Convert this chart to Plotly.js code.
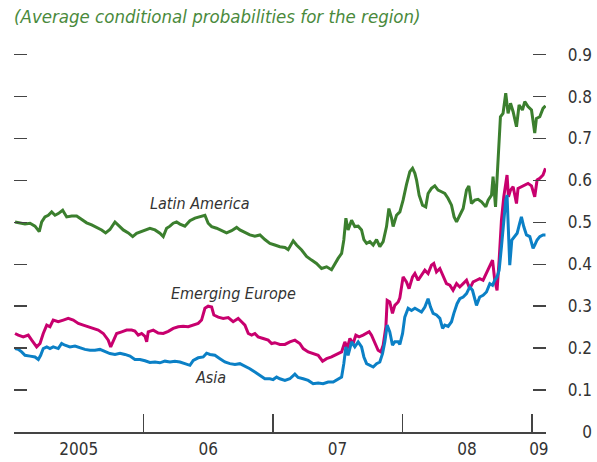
<!DOCTYPE html>
<html>
<head>
<meta charset="utf-8">
<script src="https://cdn.plot.ly/plotly-3.0.1.min.js"></script>
<style>html,body{margin:0;padding:0;background:#fff;}#chart{width:597px;height:462px;}</style>
</head>
<body>
<div id="chart"></div>
<script>
// ---- Data (x in decimal years, y = average conditional probability) ----
const latamX = [2005.008,2005.046,2005.085,2005.124,2005.162,2005.195,2005.214,2005.239,2005.265,2005.291,2005.317,2005.342,2005.376,2005.407,2005.446,2005.484,2005.523,2005.561,2005.600,2005.639,2005.677,2005.708,2005.741,2005.780,2005.805,2005.844,2005.883,2005.917,2005.947,2005.986,
2006.025,2006.050,2006.089,2006.127,2006.153,2006.179,2006.205,2006.230,2006.256,2006.282,2006.320,2006.359,2006.398,2006.436,2006.475,2006.500,2006.527,2006.565,2006.604,2006.642,2006.681,2006.720,2006.745,2006.784,2006.822,2006.861,2006.900,2006.938,2006.977,
2007.015,2007.054,2007.093,2007.118,2007.157,2007.183,2007.222,2007.260,2007.299,2007.337,2007.376,2007.415,2007.453,2007.479,2007.504,2007.531,2007.548,2007.564,2007.581,2007.608,2007.633,2007.659,2007.685,2007.703,2007.724,2007.749,2007.775,2007.801,2007.826,2007.852,2007.878,2007.896,2007.917,2007.929,2007.955,2007.981,
2008.006,2008.032,2008.058,2008.079,2008.097,2008.110,2008.130,2008.156,2008.181,2008.199,2008.225,2008.251,2008.276,2008.303,2008.328,2008.354,2008.380,2008.400,2008.419,2008.444,2008.470,2008.496,2008.514,2008.534,2008.560,2008.585,2008.612,2008.645,2008.663,2008.689,2008.701,2008.720,2008.732,2008.745,2008.758,2008.778,2008.799,2008.817,2008.836,2008.856,2008.882,2008.902,2008.928,2008.946,2008.971,2008.998,
2009.023,2009.036,2009.062,2009.087,2009.106];
const latamY = [0.501,0.498,0.496,0.498,0.491,0.478,0.501,0.513,0.517,0.525,0.517,0.521,0.529,0.513,0.515,0.515,0.507,0.499,0.494,0.488,0.482,0.475,0.483,0.501,0.494,0.482,0.475,0.466,0.474,0.478,
0.483,0.486,0.482,0.474,0.466,0.486,0.491,0.498,0.501,0.496,0.491,0.504,0.510,0.513,0.517,0.498,0.490,0.486,0.480,0.475,0.480,0.488,0.482,0.475,0.470,0.467,0.470,0.459,0.450,
0.446,0.442,0.440,0.435,0.456,0.446,0.434,0.419,0.410,0.402,0.390,0.394,0.387,0.402,0.414,0.426,0.458,0.510,0.482,0.505,0.490,0.491,0.482,0.459,0.450,0.454,0.446,0.459,0.442,0.454,0.490,0.533,0.510,0.490,0.517,0.525,
0.553,0.590,0.621,0.629,0.617,0.601,0.565,0.541,0.537,0.569,0.581,0.587,0.577,0.573,0.569,0.557,0.541,0.513,0.501,0.517,0.533,0.577,0.587,0.545,0.553,0.555,0.549,0.537,0.553,0.565,0.609,0.537,0.601,0.681,0.752,0.760,0.808,0.760,0.784,0.764,0.728,0.780,0.768,0.788,0.776,0.768,
0.713,0.748,0.752,0.772,0.778];

const eurX = [2005.008,2005.033,2005.072,2005.110,2005.137,2005.175,2005.201,2005.226,2005.253,2005.278,2005.303,2005.342,2005.381,2005.419,2005.458,2005.497,2005.535,2005.574,2005.612,2005.651,2005.690,2005.728,2005.747,2005.767,2005.793,2005.832,2005.870,2005.909,2005.934,2005.960,2005.986,
2006.012,2006.025,2006.037,2006.076,2006.114,2006.153,2006.192,2006.230,2006.269,2006.307,2006.346,2006.385,2006.423,2006.449,2006.475,2006.500,2006.527,2006.544,2006.578,2006.616,2006.655,2006.693,2006.732,2006.758,2006.784,2006.810,2006.836,2006.861,2006.886,2006.925,2006.964,2006.990,
2007.015,2007.054,2007.093,2007.131,2007.170,2007.208,2007.234,2007.273,2007.311,2007.350,2007.384,2007.415,2007.453,2007.492,2007.531,2007.556,2007.574,2007.595,2007.620,2007.641,2007.666,2007.697,2007.724,2007.744,2007.762,2007.788,2007.813,2007.834,2007.852,2007.873,2007.883,2007.903,2007.924,2007.942,2007.968,2007.981,
2008.006,2008.032,2008.052,2008.079,2008.097,2008.122,2008.148,2008.174,2008.199,2008.225,2008.243,2008.264,2008.290,2008.315,2008.341,2008.367,2008.392,2008.419,2008.444,2008.470,2008.496,2008.521,2008.547,2008.573,2008.598,2008.624,2008.650,2008.676,2008.697,2008.714,2008.732,2008.748,2008.766,2008.784,2008.799,2008.809,2008.820,2008.836,2008.856,2008.882,2008.894,2008.920,2008.946,2008.971,2008.998,
2009.023,2009.041,2009.062,2009.087,2009.106];
const eurY = [0.235,0.231,0.227,0.231,0.219,0.203,0.211,0.235,0.255,0.251,0.267,0.263,0.267,0.271,0.267,0.259,0.255,0.251,0.247,0.243,0.235,0.219,0.203,0.219,0.235,0.239,0.243,0.243,0.241,0.231,0.235,
0.228,0.215,0.239,0.243,0.236,0.235,0.240,0.247,0.251,0.252,0.251,0.255,0.259,0.267,0.295,0.300,0.298,0.279,0.274,0.271,0.273,0.263,0.271,0.263,0.255,0.235,0.231,0.235,0.227,0.223,0.219,0.211,
0.213,0.209,0.209,0.215,0.219,0.211,0.199,0.191,0.187,0.183,0.169,0.175,0.179,0.185,0.191,0.215,0.199,0.223,0.211,0.231,0.227,0.231,0.235,0.239,0.231,0.211,0.195,0.191,0.207,0.251,0.314,0.310,0.283,0.302,0.310,0.320,
0.370,0.358,0.342,0.370,0.378,0.362,0.374,0.386,0.378,0.398,0.402,0.382,0.390,0.370,0.354,0.350,0.338,0.354,0.346,0.354,0.362,0.342,0.358,0.362,0.366,0.362,0.378,0.394,0.410,0.362,0.338,0.410,0.506,0.561,0.601,0.613,0.561,0.577,0.585,0.545,0.581,0.585,0.589,0.593,0.587,
0.561,0.601,0.605,0.613,0.629];

const asiaX = [2005.008,2005.033,2005.059,2005.085,2005.124,2005.162,2005.188,2005.206,2005.226,2005.253,2005.278,2005.303,2005.342,2005.368,2005.394,2005.432,2005.471,2005.510,2005.548,2005.587,2005.625,2005.664,2005.703,2005.741,2005.780,2005.819,2005.857,2005.896,2005.934,2005.973,
2006.012,2006.050,2006.089,2006.127,2006.166,2006.205,2006.243,2006.282,2006.320,2006.359,2006.385,2006.423,2006.462,2006.488,2006.514,2006.552,2006.591,2006.629,2006.668,2006.707,2006.745,2006.784,2006.822,2006.861,2006.900,2006.938,2006.977,
2007.002,2007.029,2007.054,2007.093,2007.131,2007.170,2007.195,2007.234,2007.273,2007.311,2007.350,2007.388,2007.427,2007.466,2007.504,2007.531,2007.548,2007.564,2007.581,2007.608,2007.633,2007.659,2007.685,2007.703,2007.724,2007.749,2007.775,2007.801,2007.826,2007.847,2007.865,2007.883,2007.903,2007.924,2007.942,2007.968,2007.981,
2008.002,2008.019,2008.045,2008.071,2008.097,2008.122,2008.148,2008.174,2008.199,2008.218,2008.238,2008.264,2008.290,2008.311,2008.328,2008.354,2008.380,2008.398,2008.423,2008.444,2008.470,2008.496,2008.521,2008.542,2008.560,2008.573,2008.598,2008.624,2008.650,2008.676,2008.697,2008.714,2008.732,2008.748,2008.766,2008.784,2008.799,2008.809,2008.820,2008.830,2008.846,2008.869,2008.887,2008.907,2008.920,2008.938,2008.959,2008.985,
2009.010,2009.023,2009.041,2009.062,2009.087,2009.106];
const asiaY = [0.199,0.197,0.191,0.183,0.181,0.179,0.173,0.183,0.199,0.203,0.199,0.203,0.199,0.211,0.207,0.203,0.205,0.201,0.197,0.195,0.195,0.197,0.191,0.187,0.185,0.188,0.185,0.181,0.173,0.173,
0.170,0.166,0.167,0.165,0.169,0.167,0.169,0.167,0.163,0.159,0.171,0.177,0.179,0.188,0.185,0.183,0.175,0.167,0.163,0.161,0.163,0.157,0.151,0.143,0.135,0.127,0.127,
0.125,0.131,0.127,0.123,0.127,0.138,0.130,0.127,0.123,0.115,0.117,0.115,0.119,0.119,0.127,0.131,0.163,0.203,0.183,0.215,0.203,0.215,0.203,0.179,0.163,0.159,0.155,0.163,0.167,0.187,0.215,0.255,0.239,0.207,0.215,0.215,0.209,
0.235,0.274,0.295,0.290,0.295,0.290,0.286,0.298,0.318,0.298,0.283,0.279,0.271,0.247,0.255,0.252,0.263,0.283,0.306,0.318,0.322,0.330,0.346,0.338,0.318,0.302,0.322,0.326,0.334,0.354,0.350,0.362,0.370,0.386,0.442,0.506,0.553,0.565,0.482,0.398,0.458,0.466,0.474,0.498,0.513,0.490,0.470,0.466,
0.438,0.446,0.458,0.466,0.470,0.470];

const seriesNames = ['Latin America', 'Emerging Europe', 'Asia'];
const yearTicks = [2005, 2006, 2007, 2008, 2009];
const yearLabelPos = [2005.5, 2006.5, 2007.5, 2008.5, 2009.055];
const yearLabels = ['2005', '06', '07', '08', '09'];
const yTickVals = [0, 0.1, 0.2, 0.3, 0.4, 0.5, 0.6, 0.7, 0.8, 0.9];
const yTickText = ['0', '0.1', '0.2', '0.3', '0.4', '0.5', '0.6', '0.7', '0.8', '0.9'];
const titleText = '(Average conditional probabilities for the region)';

// ---- Styles ----
const FONT = '"DejaVu Sans Condensed", "Liberation Sans Narrow", "Roboto", sans-serif';
const colors = ['#3b7f2e', '#c8006e', '#0b80c6'];
const textColor = '#333333';

const mk = (x, y, name, color) => ({
  type: 'scatter', mode: 'lines', x: x, y: y, name: name,
  line: {color: color, width: 3}, hoverinfo: 'skip', showlegend: false
});

const traces = [
  mk(latamX, latamY, seriesNames[0], colors[0]),
  mk(eurX, eurY, seriesNames[1], colors[1]),
  mk(asiaX, asiaY, seriesNames[2], colors[2]),
  {type: 'scatter', mode: 'lines', x: [], y: [], xaxis: 'x2', yaxis: 'y2', showlegend: false, hoverinfo: 'skip'}
];

const xRange = [2005, 2009.11];
const yRange = [0, 0.904];
const xDomainEnd = 532 / 578;

const layout = {
  width: 597, height: 462,
  margin: {l: 14, r: 5, t: 53, b: 30, pad: 0},
  paper_bgcolor: '#ffffff', plot_bgcolor: '#ffffff',
  showlegend: false,
  font: {family: FONT, color: textColor, size: 17},
  title: {
    text: titleText,
    font: {family: FONT, size: 18.5, color: '#4a8a3c', style: 'italic'},
    x: 14 / 597, xanchor: 'left', xref: 'container',
    y: 1 - 17 / 462, yanchor: 'middle', yref: 'container'
  },
  xaxis: {
    domain: [0, xDomainEnd], range: xRange, type: 'linear',
    tickmode: 'array', tickvals: yearTicks, showticklabels: false,
    ticks: 'inside', ticklen: 18, tickwidth: 1.5, tickcolor: '#444',
    showline: true, linecolor: '#444', linewidth: 1.5,
    showgrid: false, zeroline: false, fixedrange: true
  },
  xaxis2: {
    overlaying: 'x', anchor: 'y', side: 'bottom', range: xRange, domain: [0, xDomainEnd],
    tickmode: 'array', tickvals: yearLabelPos, ticktext: yearLabels,
    ticks: '', showline: false, showgrid: false, zeroline: false, ticklabelstandoff: 5,
    tickfont: {family: FONT, size: 17, color: textColor}, fixedrange: true
  },
  yaxis: {
    range: yRange, side: 'right', anchor: 'x',
    tickmode: 'array', tickvals: yTickVals, showticklabels: false,
    ticks: 'inside', ticklen: 13, tickwidth: 1.5, tickcolor: '#444', mirror: 'ticks',
    showline: false, showgrid: false, zeroline: false, fixedrange: true
  },
  yaxis2: {
    overlaying: 'y', anchor: 'free', position: 1, side: 'left', range: yRange,
    tickmode: 'array', tickvals: yTickVals, ticktext: yTickText,
    ticks: '', showline: false, showgrid: false, zeroline: false,
    tickfont: {family: FONT, size: 17, color: textColor}, fixedrange: true
  },
  annotations: [
    {text: seriesNames[0], x: 2006.436, y: 0.546},
    {text: seriesNames[1], x: 2006.699, y: 0.331},
    {text: seriesNames[2], x: 2006.521, y: 0.130}
  ].map(a => Object.assign({
    xref: 'x', yref: 'y', showarrow: false, xanchor: 'center', yanchor: 'middle',
    font: {family: FONT, size: 16, color: textColor, style: 'italic'}
  }, a))
};

Plotly.newPlot('chart', traces, layout, {displayModeBar: false, staticPlot: true});
</script>
</body>
</html>
